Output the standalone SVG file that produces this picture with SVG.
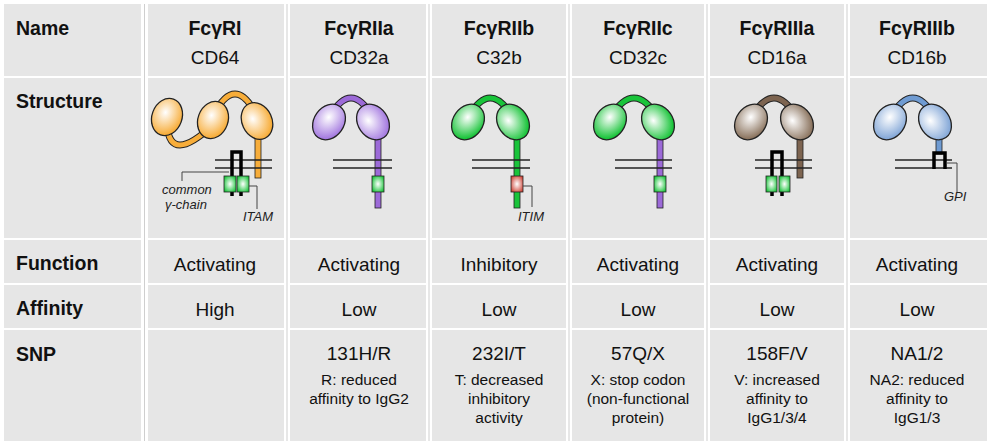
<svg xmlns="http://www.w3.org/2000/svg" width="992" height="447" viewBox="0 0 992 447">
<style>
.c{fill:#e6e6e6}
.sep{stroke:#cfcfcf;stroke-width:1}
.h{font:bold 19.5px "Liberation Sans",Arial,sans-serif;fill:#111}
.hc{font:bold 19.5px "Liberation Sans",Arial,sans-serif;fill:#111;text-anchor:middle}
.v{font:19px "Liberation Sans",Arial,sans-serif;fill:#111;text-anchor:middle}
.s{font:15.5px "Liberation Sans",Arial,sans-serif;fill:#111;text-anchor:middle}
.i{font:italic 13px "Liberation Sans",Arial,sans-serif;fill:#222}
.o{stroke:#222;stroke-width:1.3}
.mem{stroke:#222;stroke-width:1.5;fill:none}
.ln{stroke:#444;stroke-width:1;fill:none}
.gam{stroke:#000;stroke-width:3.5;fill:none}
</style>
<defs>
<radialGradient id="gO" cx="0.4" cy="0.4" r="0.6"><stop offset="0" stop-color="#fff"/><stop offset="1" stop-color="#f7ad3a"/></radialGradient>
<radialGradient id="gP" cx="0.4" cy="0.4" r="0.6"><stop offset="0" stop-color="#fff"/><stop offset="1" stop-color="#a57be0"/></radialGradient>
<radialGradient id="gG" cx="0.4" cy="0.4" r="0.6"><stop offset="0" stop-color="#fff"/><stop offset="1" stop-color="#19c43a"/></radialGradient>
<radialGradient id="gB" cx="0.4" cy="0.4" r="0.6"><stop offset="0" stop-color="#fff"/><stop offset="1" stop-color="#8c7560"/></radialGradient>
<radialGradient id="gL" cx="0.4" cy="0.4" r="0.6"><stop offset="0" stop-color="#fff"/><stop offset="1" stop-color="#86a9d8"/></radialGradient>
<radialGradient id="gR" cx="0.5" cy="0.5" r="0.6"><stop offset="0" stop-color="#fff"/><stop offset="1" stop-color="#d0473a"/></radialGradient>
<radialGradient id="gS" cx="0.5" cy="0.5" r="0.6"><stop offset="0" stop-color="#fff"/><stop offset="1" stop-color="#19c43a"/></radialGradient>
</defs>
<rect width="992" height="447" fill="#fff"/>
<g id="grid">
<g id="row-name">
<rect class="c" x="4" y="4" width="137" height="72"/><rect class="c" x="148" y="4" width="136" height="72"/><rect class="c" x="290" y="4" width="136" height="72"/><rect class="c" x="432" y="4" width="134" height="72"/><rect class="c" x="572" y="4" width="132" height="72"/><rect class="c" x="710" y="4" width="134" height="72"/><rect class="c" x="850" y="4" width="137" height="72"/>
</g>
<g id="row-structure">
<rect class="c" x="4" y="78" width="137" height="160"/><rect class="c" x="148" y="78" width="136" height="160"/><rect class="c" x="290" y="78" width="136" height="160"/><rect class="c" x="432" y="78" width="134" height="160"/><rect class="c" x="572" y="78" width="132" height="160"/><rect class="c" x="710" y="78" width="134" height="160"/><rect class="c" x="850" y="78" width="137" height="160"/>
</g>
<g id="row-function">
<rect class="c" x="4" y="240" width="137" height="43"/><rect class="c" x="148" y="240" width="136" height="43"/><rect class="c" x="290" y="240" width="136" height="43"/><rect class="c" x="432" y="240" width="134" height="43"/><rect class="c" x="572" y="240" width="132" height="43"/><rect class="c" x="710" y="240" width="134" height="43"/><rect class="c" x="850" y="240" width="137" height="43"/>
</g>
<g id="row-affinity">
<rect class="c" x="4" y="285" width="137" height="43"/><rect class="c" x="148" y="285" width="136" height="43"/><rect class="c" x="290" y="285" width="136" height="43"/><rect class="c" x="432" y="285" width="134" height="43"/><rect class="c" x="572" y="285" width="132" height="43"/><rect class="c" x="710" y="285" width="134" height="43"/><rect class="c" x="850" y="285" width="137" height="43"/>
</g>
<g id="row-snp">
<rect class="c" x="4" y="330" width="137" height="111"/><rect class="c" x="148" y="330" width="136" height="111"/><rect class="c" x="290" y="330" width="136" height="111"/><rect class="c" x="432" y="330" width="134" height="111"/><rect class="c" x="572" y="330" width="132" height="111"/><rect class="c" x="710" y="330" width="134" height="111"/><rect class="c" x="850" y="330" width="137" height="111"/>
</g>
<g class="sep"><line x1="144.5" y1="4" x2="144.5" y2="441"/><line x1="287" y1="4" x2="287" y2="441"/><line x1="429" y1="4" x2="429" y2="441"/><line x1="569" y1="4" x2="569" y2="441"/><line x1="707" y1="4" x2="707" y2="441"/><line x1="847" y1="4" x2="847" y2="441"/></g>
</g>
<g id="labels">
<text class="h" x="16" y="35">Name</text>
<text class="h" x="16" y="108">Structure</text>
<text class="h" x="16" y="270">Function</text>
<text class="h" x="16" y="315">Affinity</text>
<text class="h" x="16" y="361">SNP</text>
</g>
<g id="col1">
<text class="hc" x="215" y="35">FcγRI</text><text class="v" x="215" y="64">CD64</text>
<path d="M167,125 Q170,165 213,125" stroke="#222" stroke-width="7" fill="none"/>
<path d="M167,125 Q170,165 213,125" stroke="#f7ad3a" stroke-width="5" fill="none"/>
<path d="M213,116 Q235,72 257,116" stroke="#222" stroke-width="7" fill="none"/>
<path d="M213,116 Q235,72 257,116" stroke="#f7ad3a" stroke-width="5" fill="none"/>
<rect x="255" y="130" width="6" height="48" fill="#f7ad3a" stroke="#222" stroke-width="0.8"/>
<ellipse class="o" cx="167" cy="117" rx="15" ry="19" transform="rotate(20 167 117)" fill="url(#gO)"/>
<ellipse class="o" cx="213" cy="120" rx="15" ry="19" transform="rotate(20 213 120)" fill="url(#gO)"/>
<ellipse class="o" cx="257" cy="121" rx="15" ry="19" transform="rotate(-25 257 121)" fill="url(#gO)"/>
<line class="mem" x1="215" y1="160" x2="272" y2="160"/><line class="mem" x1="215" y1="168" x2="272" y2="168"/>
<path class="gam" d="M232,196 V152 H241 V196"/>
<rect x="224" y="176" width="12" height="16" fill="url(#gS)" stroke="#222" stroke-width="0.8"/>
<rect x="237" y="176" width="12" height="16" fill="url(#gS)" stroke="#222" stroke-width="0.8"/>
<path class="ln" d="M229,172 H182 V181"/><path class="ln" d="M249,186 H257 V209"/>
<text class="i" x="162" y="194">common</text><text class="i" x="165" y="209">γ-chain</text>
<text class="i" x="243" y="221">ITAM</text>
<text class="v" x="215" y="271">Activating</text><text class="v" x="215" y="316">High</text>
</g>
<g id="col2">
<text class="hc" x="359" y="35">FcγRIIa</text><text class="v" x="359" y="64">CD32a</text>
<path d="M329,118 Q351,78 373,118" stroke="#222" stroke-width="7" fill="none"/>
<path d="M329,118 Q351,78 373,118" stroke="#9c6ad8" stroke-width="5" fill="none"/>
<rect x="375" y="135" width="6" height="73" fill="#9c6ad8" stroke="#222" stroke-width="0.8"/>
<ellipse class="o" cx="329" cy="122" rx="15" ry="19" transform="rotate(35 329 122)" fill="url(#gP)"/>
<ellipse class="o" cx="373" cy="122" rx="15" ry="19" transform="rotate(-35 373 122)" fill="url(#gP)"/>
<line class="mem" x1="333" y1="160" x2="392" y2="160"/><line class="mem" x1="333" y1="168" x2="392" y2="168"/>
<rect x="372" y="176" width="12" height="16" fill="url(#gS)" stroke="#222" stroke-width="0.8"/>
<text class="v" x="359" y="271">Activating</text><text class="v" x="359" y="316">Low</text>
<text class="v" x="359" y="360">131H/R</text><text class="s" x="359" y="385">R: reduced</text><text class="s" x="359" y="404">affinity to IgG2</text>
</g>
<g id="col3">
<text class="hc" x="499" y="35">FcγRIIb</text><text class="v" x="499" y="64">C32b</text>
<path d="M468,118 Q490,78 513,118" stroke="#222" stroke-width="7" fill="none"/>
<path d="M468,118 Q490,78 513,118" stroke="#19c43a" stroke-width="5" fill="none"/>
<rect x="514" y="135" width="6" height="73" fill="#19c43a" stroke="#222" stroke-width="0.8"/>
<ellipse class="o" cx="468" cy="122" rx="15" ry="19" transform="rotate(35 468 122)" fill="url(#gG)"/>
<ellipse class="o" cx="513" cy="122" rx="15" ry="19" transform="rotate(-35 513 122)" fill="url(#gG)"/>
<line class="mem" x1="472" y1="160" x2="530" y2="160"/><line class="mem" x1="472" y1="168" x2="530" y2="168"/>
<rect x="511" y="176" width="12" height="16" fill="url(#gR)" stroke="#222" stroke-width="0.8"/>
<path class="ln" d="M523,186 H532 V207"/>
<text class="i" x="518" y="221">ITIM</text>
<text class="v" x="499" y="271">Inhibitory</text><text class="v" x="499" y="316">Low</text>
<text class="v" x="499" y="360">232I/T</text><text class="s" x="499" y="385">T: decreased</text><text class="s" x="499" y="404">inhibitory</text><text class="s" x="499" y="423">activity</text>
</g>
<g id="col4">
<text class="hc" x="638" y="35">FcγRIIc</text><text class="v" x="638" y="64">CD32c</text>
<path d="M610,118 Q634,78 658,118" stroke="#222" stroke-width="7" fill="none"/>
<path d="M610,118 Q634,78 658,118" stroke="#19c43a" stroke-width="5" fill="none"/>
<rect x="657" y="135" width="6" height="73" fill="#9c6ad8" stroke="#222" stroke-width="0.8"/>
<ellipse class="o" cx="610" cy="122" rx="15" ry="19" transform="rotate(35 610 122)" fill="url(#gG)"/>
<ellipse class="o" cx="658" cy="122" rx="15" ry="19" transform="rotate(-35 658 122)" fill="url(#gG)"/>
<line class="mem" x1="615" y1="160" x2="672" y2="160"/><line class="mem" x1="615" y1="168" x2="672" y2="168"/>
<rect x="654" y="176" width="12" height="16" fill="url(#gS)" stroke="#222" stroke-width="0.8"/>
<text class="v" x="638" y="271">Activating</text><text class="v" x="638" y="316">Low</text>
<text class="v" x="638" y="360">57Q/X</text><text class="s" x="638" y="385">X: stop codon</text><text class="s" x="638" y="404">(non-functional</text><text class="s" x="638" y="423">protein)</text>
</g>
<g id="col5">
<text class="hc" x="777" y="35">FcγRIIIa</text><text class="v" x="777" y="64">CD16a</text>
<path d="M751,118 Q774,78 797,118" stroke="#222" stroke-width="7" fill="none"/>
<path d="M751,118 Q774,78 797,118" stroke="#7d6450" stroke-width="5" fill="none"/>
<rect x="797" y="132" width="6" height="46" fill="#7d6450" stroke="#222" stroke-width="0.8"/>
<ellipse class="o" cx="751" cy="122" rx="15" ry="19" transform="rotate(35 751 122)" fill="url(#gB)"/>
<ellipse class="o" cx="797" cy="122" rx="15" ry="19" transform="rotate(-35 797 122)" fill="url(#gB)"/>
<line class="mem" x1="755" y1="160" x2="812" y2="160"/><line class="mem" x1="755" y1="168" x2="812" y2="168"/>
<path class="gam" d="M772,196 V152 H782 V196"/>
<rect x="766" y="176" width="11" height="16" fill="url(#gS)" stroke="#222" stroke-width="0.8"/>
<rect x="779" y="176" width="11" height="16" fill="url(#gS)" stroke="#222" stroke-width="0.8"/>
<text class="v" x="777" y="271">Activating</text><text class="v" x="777" y="316">Low</text>
<text class="v" x="777" y="360">158F/V</text><text class="s" x="777" y="385">V: increased</text><text class="s" x="777" y="404">affinity to</text><text class="s" x="777" y="423">IgG1/3/4</text>
</g>
<g id="col6">
<text class="hc" x="917" y="35">FcγRIIIb</text><text class="v" x="917" y="64">CD16b</text>
<path d="M890,118 Q913,78 935,118" stroke="#222" stroke-width="7" fill="none"/>
<path d="M890,118 Q913,78 935,118" stroke="#6f9bd2" stroke-width="5" fill="none"/>
<rect x="936" y="134" width="6" height="20" fill="#6f9bd2" stroke="#222" stroke-width="0.8"/>
<ellipse class="o" cx="890" cy="122" rx="15" ry="19" transform="rotate(35 890 122)" fill="url(#gL)"/>
<ellipse class="o" cx="935" cy="122" rx="15" ry="19" transform="rotate(-35 935 122)" fill="url(#gL)"/>
<line class="mem" x1="895" y1="160" x2="952" y2="160"/><line class="mem" x1="895" y1="168" x2="952" y2="168"/>
<path class="gam" d="M934,169 V153 H945 V169"/>
<path class="ln" d="M946,163 H957 V192"/>
<text class="i" x="944" y="201">GPI</text>
<text class="v" x="917" y="271">Activating</text><text class="v" x="917" y="316">Low</text>
<text class="v" x="917" y="360">NA1/2</text><text class="s" x="917" y="385">NA2: reduced</text><text class="s" x="917" y="404">affinity to</text><text class="s" x="917" y="423">IgG1/3</text>
</g>
<g id="connectors"/>
</svg>
